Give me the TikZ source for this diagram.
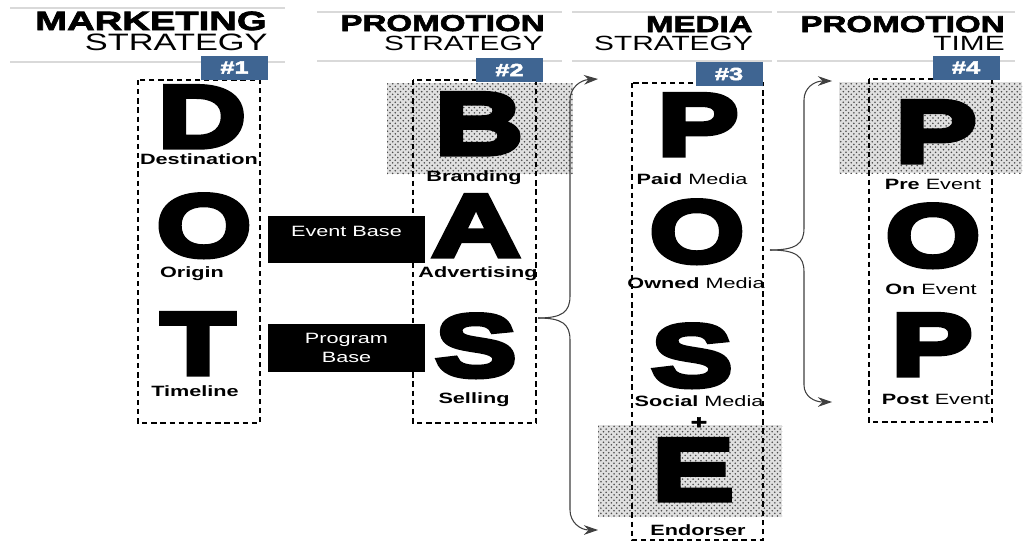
\documentclass[tikz,border=0pt]{standalone}
\usepackage{fontspec}
\usepackage{tikz}
\usetikzlibrary{arrows.meta, patterns}
\setmainfont{Liberation Sans}
\newfontfamily\widesans[FakeStretch=1.45]{Liberation Sans}
\newfontfamily\heavysans[FakeStretch=1.45,FakeBold=3]{Liberation Sans Bold}
\newfontfamily\blacksans[FakeStretch=1.4,FakeBold=6]{Liberation Sans Bold}
\definecolor{badgeblue}{HTML}{3F6592}
\definecolor{ruleline}{HTML}{D9D9D9}

\tikzset{
  bigletter/.style={font=\blacksans\fontsize{50}{50}\selectfont, inner sep=0pt, anchor=base},
  caption/.style={font=\widesans\fontsize{8.5}{10}\selectfont, inner sep=0pt, anchor=base},
  head/.style={inner sep=0pt, anchor=base east},
  badge/.style={fill=badgeblue, text=white, font=\heavysans\fontsize{10}{10}\selectfont,
    minimum width=1.34cm, minimum height=0.48cm, inner sep=0pt},
  dashbox/.style={draw=black, dash pattern=on 3pt off 2.2pt, line width=0.9pt},
  dotfill/.style={preaction={fill=black!12}, pattern=crosshatch dots, pattern color=black!70},
  bannertext/.style={text=white, font=\widesans\fontsize{8.5}{10.8}\selectfont, inner sep=0pt},
  bracearrow/.style={draw=black!75, line width=0.6pt, -{Stealth[length=8pt,width=5.5pt]}},
  headrule/.style={draw=ruleline, line width=1pt},
}

\begin{document}
\begin{tikzpicture}[x=0.02cm, y=-0.02cm]
  \fill[white] (0,0) rectangle (1025,545);
  \useasboundingbox (0,0) rectangle (1025,545);

  % rules above and below each heading
  \foreach \xa/\xb/\ya/\yb in {10/285/8/62, 317/562/12/61, 572/772/12/61, 777/1015/12/61}{
    \draw[headrule] (\xa,\ya) -- (\xb,\ya);
    \draw[headrule] (\xa,\yb) -- (\xb,\yb);
  }

  % headings
  \node[head, font=\heavysans\fontsize{15}{15}\selectfont] (mkt) at (267,30) {MARKETING};
  \node[head, font=\widesans\fontsize{13.5}{14}\selectfont] (mktsub) at (268,50) {STRATEGY};
  \node[head, font=\heavysans\fontsize{13}{13}\selectfont] (promo) at (545,31) {PROMOTION};
  \node[head, font=\widesans\fontsize{11.7}{12}\selectfont] (promosub) at (543,50) {STRATEGY};
  \node[head, font=\heavysans\fontsize{13}{13}\selectfont] (media) at (753,32) {MEDIA};
  \node[head, font=\widesans\fontsize{11.7}{12}\selectfont] (mediasub) at (753,50) {STRATEGY};
  \node[head, font=\heavysans\fontsize{13}{13}\selectfont] (ptime) at (1005,32) {PROMOTION};
  \node[head, font=\widesans\fontsize{11.7}{12}\selectfont] (ptimesub) at (1005,50) {TIME};

  % dotted highlights
  \fill[dotfill] (387,83) rectangle (573,174);
  \fill[dotfill] (598,425) rectangle (782,517);
  \fill[dotfill] (839,82) rectangle (1022,173);

  % dashed columns
  \draw[dashbox] (138,80) rectangle (260,423);
  \draw[dashbox] (413,80) rectangle (536,423);
  \draw[dashbox] (632,83) rectangle (763,540);
  \draw[dashbox] (869,79) rectangle (992,422);

  % step badges
  \node[badge] (n1) at (234.5,67.5) {\#1};
  \node[badge] (n2) at (509.5,70) {\#2};
  \node[badge] (n3) at (729,74) {\#3};
  \node[badge] (n4) at (966,67.5) {\#4};

  % DOT
  \node[bigletter] (dotD) at (202,147) {D};
  \node[caption] (dest) at (199,164) {\bfseries Destination};
  \node[bigletter] (dotO) at (204,256) {O};
  \node[caption] (orig) at (192,277) {\bfseries Origin};
  \node[bigletter] (dotT) at (198,374) {T};
  \node[caption] (tline) at (195,396) {\bfseries Timeline};

  % BAS
  \node[bigletter] (basB) at (479,154) {B};
  \node[caption] (brand) at (474,181) {\bfseries Branding};
  \node[bigletter] (basA) at (476,256) {A};
  \node[caption] (adv) at (478,277) {\bfseries Advertising};
  \node[bigletter] (basS) at (476,376) {S};
  \node[caption] (sell) at (474,403) {\bfseries Selling};

  % event / program bars
  \fill (268,216) rectangle (425,263);
  \node[bannertext] (evt) at (346.5,231) {Event Base};
  \fill (268,324) rectangle (425,372);
  \node[bannertext, align=center] (prg) at (346.5,348) {Program\\Base};

  % POSE
  \node[bigletter] (poseP) at (698,155) {P};
  \node[caption] (paid) at (692,184) {{\bfseries Paid} Media};
  \node[bigletter] (poseO) at (697,262) {O};
  \node[caption] (owned) at (696,288) {{\bfseries Owned} Media};
  \node[bigletter] (poseS) at (692,386) {S};
  \node[caption] (social) at (699,406) {{\bfseries Social} Media};
  \node[font=\heavysans\fontsize{11}{11}\selectfont, inner sep=0pt] (plus) at (699,423) {+};
  \node[bigletter] (poseE) at (693,500) {E};
  \node[caption] (endo) at (698,535) {\bfseries Endorser};

  % POP
  \node[bigletter] (popP) at (936,162) {P};
  \node[caption] (pre) at (933,189) {{\bfseries Pre} Event};
  \node[bigletter] (popO) at (933,266) {O};
  \node[caption] (on) at (931,294) {{\bfseries On} Event};
  \node[bigletter] (popQ) at (932,375) {P};
  \node[caption] (post) at (936,404) {{\bfseries Post} Event};

  % braces
  \coordinate (selltip) at (538,318);
  \coordinate (mediatop) at (598,79);
  \coordinate (endorse) at (598,530);
  \coordinate (ownedtip) at (770,250);
  \coordinate (pretop) at (832,81);
  \coordinate (postend) at (832,402);

  \draw[bracearrow] (selltip) .. controls (562,318) and (570,312) .. (570,296)
    -- (570,100) .. controls (570,88) and (580,80) .. (mediatop);
  \draw[bracearrow] (selltip) .. controls (562,318) and (570,324) .. (570,340)
    -- (570,510) .. controls (570,522) and (580,530) .. (endorse);
  \draw[bracearrow] (ownedtip) .. controls (796,250) and (804,244) .. (804,228)
    -- (804,100) .. controls (804,88) and (814,81) .. (pretop);
  \draw[bracearrow] (ownedtip) .. controls (796,250) and (804,256) .. (804,272)
    -- (804,385) .. controls (804,396) and (814,402) .. (postend);
\end{tikzpicture}
\end{document}
